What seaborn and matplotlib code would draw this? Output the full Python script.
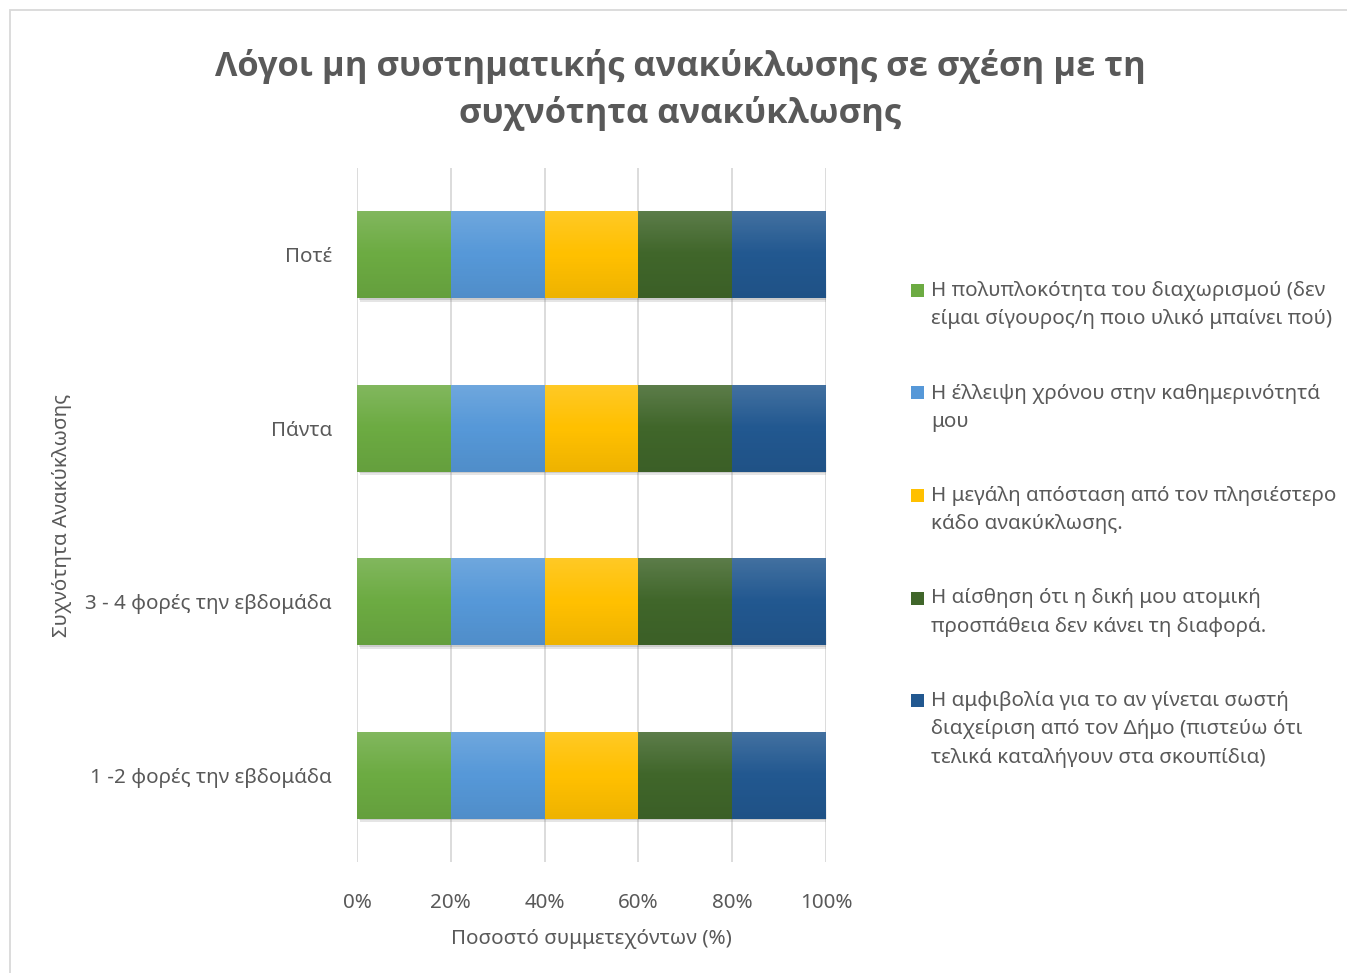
import numpy as np
import pandas as pd
import matplotlib.pyplot as plt
import matplotlib.ticker as mtick
from matplotlib import patheffects as pe
from matplotlib.patches import Rectangle
import seaborn as sns

# Data: share of participants (%) per reason, for every recycling frequency
frequencies = ['Ποτέ', 'Πάντα', '3 - 4 φορές την εβδομάδα', '1 -2 φορές την εβδομάδα']
reasons = [
    'Η πολυπλοκότητα του διαχωρισμού (δεν\nείμαι σίγουρος/η ποιο υλικό μπαίνει πού)',
    'Η έλλειψη χρόνου στην καθημερινότητά\nμου',
    'Η μεγάλη απόσταση από τον πλησιέστερο\nκάδο ανακύκλωσης.',
    'Η αίσθηση ότι η δική μου ατομική\nπροσπάθεια δεν κάνει τη διαφορά.',
    'Η αμφιβολία για το αν γίνεται σωστή\nδιαχείριση από τον Δήμο (πιστεύω ότι\nτελικά καταλήγουν στα σκουπίδια)',
]
complexity = [20, 20, 20, 20]
no_time = [20, 20, 20, 20]
distance = [20, 20, 20, 20]
no_difference = [20, 20, 20, 20]
distrust = [20, 20, 20, 20]
colors = ['#6cab42', '#5698d8', '#ffc000', '#40662a', '#225890']

df = pd.DataFrame({'freq': frequencies})
for name, vals in zip(reasons, [complexity, no_time, distance, no_difference, distrust]):
    df[name] = vals
# 100% stacked: normalise rows, then cumulative sums
shares = df[reasons].div(df[reasons].sum(axis=1), axis=0) * 100
cum = shares.cumsum(axis=1)
cum['freq'] = df['freq']

sns.set_style('white')
plt.rcParams['font.family'] = ['Noto Sans', 'DejaVu Sans']
text_color = '#595959'
fs = 14.8

fig = plt.figure(figsize=(13.47, 9.73), dpi=100)
ax = fig.add_axes([0.265, 0.1141, 0.3482, 0.7132])

# draw from the longest cumulative bar to the shortest
for i in range(len(reasons) - 1, -1, -1):
    sns.barplot(data=cum, x=reasons[i], y='freq', order=frequencies,
                color=colors[i], width=0.5, saturation=1, ax=ax)

n = len(frequencies)
for k, p in enumerate(ax.patches):
    p.set_linewidth(0)
    if k < n:  # soft shadow only under the full-length bars
        p.set_path_effects([pe.SimplePatchShadow(offset=(2.5, -2.5), shadow_rgbFace='#7f7f7f', alpha=0.2),
                            pe.SimplePatchShadow(offset=(1.2, -1.2), shadow_rgbFace='#7f7f7f', alpha=0.25),
                            pe.Normal()])

# light top / dark bottom gradient, one overlay per full bar
grad = np.zeros((100, 1, 4))
t = np.linspace(0, 1, 100)
top = np.clip(1 - t / 0.5, 0, 1)
bot = np.clip((t - 0.5) / 0.5, 0, 1)
grad[:, 0, :3] = np.where(top[:, None] > 0, 1.0, 0.0)
grad[:, 0, 3] = top * 0.15 + bot * 0.07
for p in ax.patches[:n]:
    bb = p.get_bbox()
    ax.imshow(grad, extent=[bb.x0, bb.x1, bb.y1, bb.y0], aspect='auto',
              clip_path=p, zorder=p.get_zorder() + 0.5, interpolation='bilinear')

ax.set_xlim(0, 100)
ax.set_ylim(3.5, -0.5)
ax.set_xticks([0, 20, 40, 60, 80, 100])
ax.xaxis.set_major_formatter(mtick.PercentFormatter(decimals=0))
ax.set_axisbelow(True)
ax.grid(axis='x', color='#d9d9d9', linewidth=1.3)
ax.grid(axis='y', visible=False)
for s in ax.spines.values():
    s.set_visible(False)
ax.tick_params(axis='y', length=0, pad=18, labelsize=fs, labelcolor=text_color)
ax.tick_params(axis='x', length=0, pad=22, labelsize=fs, labelcolor=text_color)

ax.set_xlabel('Ποσοστό συμμετεχόντων (%)', fontsize=fs, color=text_color, labelpad=12)
ax.set_ylabel('Συχνότητα Ανακύκλωσης', fontsize=fs, color=text_color)
ax.yaxis.set_label_coords(-0.607, 0.5)

fig.text(0.505, 0.9075, 'Λόγοι μη συστηματικής ανακύκλωσης σε σχέση με τη\nσυχνότητα ανακύκλωσης',
         ha='center', va='center', fontsize=24.8, fontweight='bold', color=text_color,
         linespacing=1.42, family=['Open Sans', 'DejaVu Sans'])

# legend drawn by hand so the square sits next to the first line
W, H = 1347, 973
for i, (lab, col) in enumerate(zip(reasons, colors)):
    y_first = 290 + 102.5 * i
    fig.add_artist(Rectangle((911 / W, 1 - (y_first + 7) / H), 13 / W, 13 / H,
                             transform=fig.transFigure, facecolor=col, edgecolor='none'))
    fig.text(931 / W, 1 - (y_first - 9) / H, lab, ha='left', va='top',
             fontsize=fs, color=text_color, linespacing=1.55)

# chart area border
fig.add_artist(Rectangle((10 / W, -0.02), 1.05, 1 - 10 / H + 0.02, transform=fig.transFigure,
                         fill=False, edgecolor='#d9d9d9', linewidth=1.3))

fig.savefig('out.png', dpi=100)
